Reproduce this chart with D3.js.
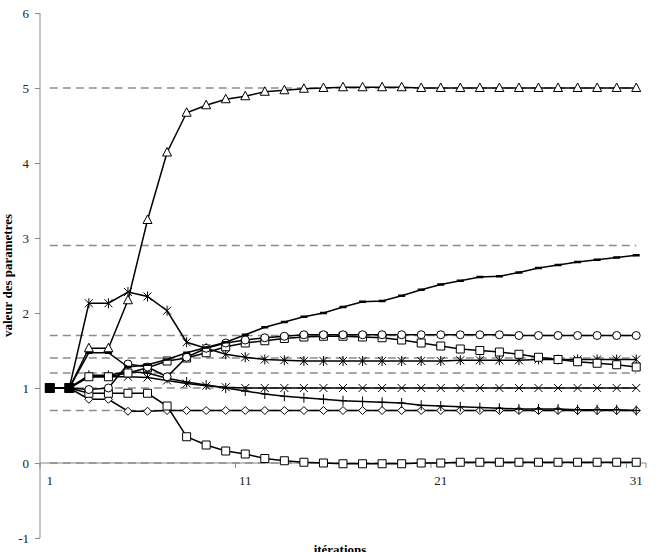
<!DOCTYPE html>
<html>
<head>
<meta charset="utf-8">
<script src="https://cdn.jsdelivr.net/npm/d3@7"></script>
<style>
body { margin: 0; background: #fff; }
text { font-family: "Liberation Serif", "Times New Roman", serif; }
</style>
</head>
<body>
<div id="chart"></div>
<script>
// iterations on the x axis
var iterations = [1,2,3,4,5,6,7,8,9,10,11,12,13,14,15,16,17,18,19,20,21,22,23,24,25,26,27,28,29,30,31];
var xTickLabels = [1, 11, 21, 31];
var yTicks = [-1, 0, 1, 2, 3, 4, 5, 6];

// true parameter values (dashed lines)
var targets = [5, 2.9, 1.7, 1.4, 1.2, 1.0, 0.7, 0];

// estimated parameters per iteration
var triangleVals = [1, 1, 1.53, 1.53, 2.17, 3.24, 4.14, 4.67, 4.77, 4.85, 4.89, 4.95, 4.97, 4.99, 5.0, 5.01, 5.01, 5.01, 5.01, 5.0, 5.0, 5.0, 5.0, 5.0, 5.0, 5.0, 5.0, 5.0, 5.0, 5.0, 5.0];
var dashVals = [1, 1, 1.47, 1.47, 1.28, 1.31, 1.38, 1.47, 1.54, 1.61, 1.71, 1.81, 1.88, 1.95, 2.0, 2.08, 2.15, 2.16, 2.23, 2.31, 2.38, 2.43, 2.48, 2.49, 2.54, 2.6, 2.64, 2.68, 2.71, 2.74, 2.77];
var circleVals = [1, 1, 0.98, 1.0, 1.32, 1.28, 1.15, 1.41, 1.53, 1.6, 1.64, 1.67, 1.69, 1.71, 1.71, 1.71, 1.71, 1.71, 1.71, 1.71, 1.71, 1.71, 1.71, 1.71, 1.7, 1.7, 1.7, 1.7, 1.7, 1.7, 1.7];
var squareAVals = [1, 1, 1.15, 1.15, 1.2, 1.27, 1.36, 1.4, 1.47, 1.55, 1.6, 1.63, 1.66, 1.68, 1.69, 1.69, 1.68, 1.67, 1.64, 1.6, 1.56, 1.52, 1.5, 1.48, 1.45, 1.41, 1.38, 1.35, 1.33, 1.31, 1.28];
var asteriskVals = [1, 1, 2.13, 2.13, 2.28, 2.22, 2.03, 1.61, 1.53, 1.45, 1.41, 1.38, 1.37, 1.36, 1.36, 1.36, 1.36, 1.36, 1.36, 1.36, 1.36, 1.37, 1.37, 1.37, 1.37, 1.38, 1.38, 1.38, 1.38, 1.38, 1.38];
var xcrossVals = [1, 1, 1.15, 1.15, 1.15, 1.14, 1.1, 1.06, 1.03, 1.01, 1.0, 1.0, 1.0, 1.0, 1.0, 1.0, 1.0, 1.0, 1.0, 1.0, 1.0, 1.0, 1.0, 1.0, 1.0, 1.0, 1.0, 1.0, 1.0, 1.0, 1.0];
var plusVals = [1, 1, 1.17, 1.17, 1.22, 1.2, 1.13, 1.08, 1.04, 1.0, 0.96, 0.92, 0.89, 0.87, 0.85, 0.83, 0.82, 0.81, 0.8, 0.77, 0.76, 0.75, 0.74, 0.73, 0.72, 0.72, 0.72, 0.71, 0.71, 0.71, 0.7];
var diamondVals = [1, 1, 0.85, 0.85, 0.69, 0.69, 0.7, 0.7, 0.7, 0.7, 0.7, 0.7, 0.7, 0.7, 0.7, 0.7, 0.7, 0.7, 0.7, 0.7, 0.7, 0.7, 0.7, 0.7, 0.7, 0.7, 0.7, 0.7, 0.7, 0.7, 0.7];
var squareBVals = [1, 1, 0.93, 0.93, 0.93, 0.93, 0.76, 0.35, 0.24, 0.16, 0.12, 0.06, 0.03, 0.01, 0.0, -0.01, -0.01, -0.01, -0.01, 0.0, 0.0, 0.01, 0.01, 0.01, 0.01, 0.01, 0.01, 0.01, 0.01, 0.01, 0.01];
// shared starting point, drawn as filled squares
var startVals = [1, 1];

var series = [
	{ vals: diamondVals, marker: "diamond" },
	{ vals: squareBVals, marker: "square" },
	{ vals: plusVals, marker: "plus" },
	{ vals: xcrossVals, marker: "x" },
	{ vals: asteriskVals, marker: "asterisk" },
	{ vals: squareAVals, marker: "square" },
	{ vals: circleVals, marker: "circle" },
	{ vals: dashVals, marker: "dash" },
	{ vals: triangleVals, marker: "triangle" }
];

var width = 660, height = 552;
var plotLeft = 40, plotRight = 646, plotTop = 13, plotBottom = 538;

var svg = d3.select("#chart").append("svg")
	.attr("width", width)
	.attr("height", height);

var x = d3.scaleBand().domain(iterations).range([plotLeft, plotRight]).padding(0);
var y = d3.scaleLinear().domain([-1, 6]).range([plotBottom, plotTop]);
var cx = function(i) { return x(iterations[i]) + x.bandwidth() / 2; };

// y axis
var yAxis = svg.append("g")
	.attr("transform", "translate(" + plotLeft + ",0)")
	.call(d3.axisLeft(y).tickValues(yTicks).tickSize(5).tickPadding(6).tickFormat(function(d) { return String(d); }));
yAxis.select(".domain").attr("stroke", "#888").attr("d", "M0," + plotBottom + "V" + plotTop);
yAxis.selectAll(".tick line").attr("stroke", "#888");
yAxis.selectAll(".tick text").attr("font-size", 13).attr("fill", "#222")
	.attr("font-family", "Liberation Serif");

// x axis crossing at 0
var xAxisG = svg.append("g").attr("transform", "translate(0," + y(0) + ")");
xAxisG.append("line").attr("x1", plotLeft).attr("x2", plotRight).attr("stroke", "#888");
xAxisG.selectAll(".xt").data([0, 10, 20, 30, 31]).enter().append("line")
	.attr("x1", function(d) { return plotLeft + d * x.bandwidth(); })
	.attr("x2", function(d) { return plotLeft + d * x.bandwidth(); })
	.attr("y1", 0).attr("y2", 5).attr("stroke", "#888");
xAxisG.selectAll(".xl").data(xTickLabels).enter().append("text")
	.attr("x", function(d) { return x(d) + x.bandwidth() / 2; })
	.attr("y", 22)
	.attr("text-anchor", "middle")
	.attr("font-size", 13).attr("fill", "#222")
	.text(function(d) { return d; });

// dashed reference lines
svg.selectAll(".target").data(targets).enter().append("line")
	.attr("x1", cx(0)).attr("x2", cx(iterations.length - 1))
	.attr("y1", function(d) { return y(d); })
	.attr("y2", function(d) { return y(d); })
	.attr("stroke", "#8c8c8c").attr("stroke-width", 1.5)
	.attr("stroke-dasharray", "8,5");

function markerPath(type) {
	switch (type) {
		case "square": return "M-4,-4h8v8h-8Z";
		case "circle": return "M4,0A4,4 0 1,1 -4,0A4,4 0 1,1 4,0Z";
		case "triangle": return "M0,-5L4.5,3.5L-4.5,3.5Z";
		case "diamond": return "M0,-4L4,0L0,4L-4,0Z";
		case "x": return "M-4,-4L4,4M4,-4L-4,4";
		case "asterisk": return "M-4,-4L4,4M4,-4L-4,4M0,-5L0,5";
		case "plus": return "M-4,0L4,0M0,-5L0,5";
		case "dash": return "M-3.5,0L3.5,0";
	}
	return "";
}

var line = d3.line()
	.x(function(d, i) { return cx(i); })
	.y(function(d) { return y(d); });

var g = svg.selectAll(".serie").data(series).enter().append("g").attr("class", "serie");
g.append("path")
	.attr("d", function(d) { return line(d.vals); })
	.attr("fill", "none").attr("stroke", "#000").attr("stroke-width", 1.5);
g.each(function(s) {
	d3.select(this).selectAll(".m").data(s.vals).enter().append("path")
		.attr("transform", function(d, i) { return "translate(" + cx(i) + "," + y(d) + ")"; })
		.attr("d", markerPath(s.marker))
		.attr("fill", s.marker == "dash" ? "none" : "#fff")
		.attr("stroke", "#000")
		.attr("stroke-width", s.marker == "dash" ? 2.5 : 1);
});

// filled start markers
svg.append("path").attr("d", line(startVals)).attr("stroke", "#000").attr("stroke-width", 1.5).attr("fill", "none");
svg.selectAll(".start").data(startVals).enter().append("rect")
	.attr("x", function(d, i) { return cx(i) - 5; })
	.attr("y", function(d) { return y(d) - 5; })
	.attr("width", 10).attr("height", 10)
	.attr("fill", "#000");

// titles
svg.append("text")
	.attr("transform", "translate(12," + (plotTop + plotBottom) / 2 + ") rotate(-90)")
	.attr("text-anchor", "middle")
	.attr("font-size", 13).attr("font-weight", "bold")
	.text("valeur des parametres");
svg.append("text")
	.attr("x", 340).attr("y", 554)
	.attr("text-anchor", "middle")
	.attr("font-size", 13).attr("font-weight", "bold")
	.text("itérations");
</script>
</body>
</html>
